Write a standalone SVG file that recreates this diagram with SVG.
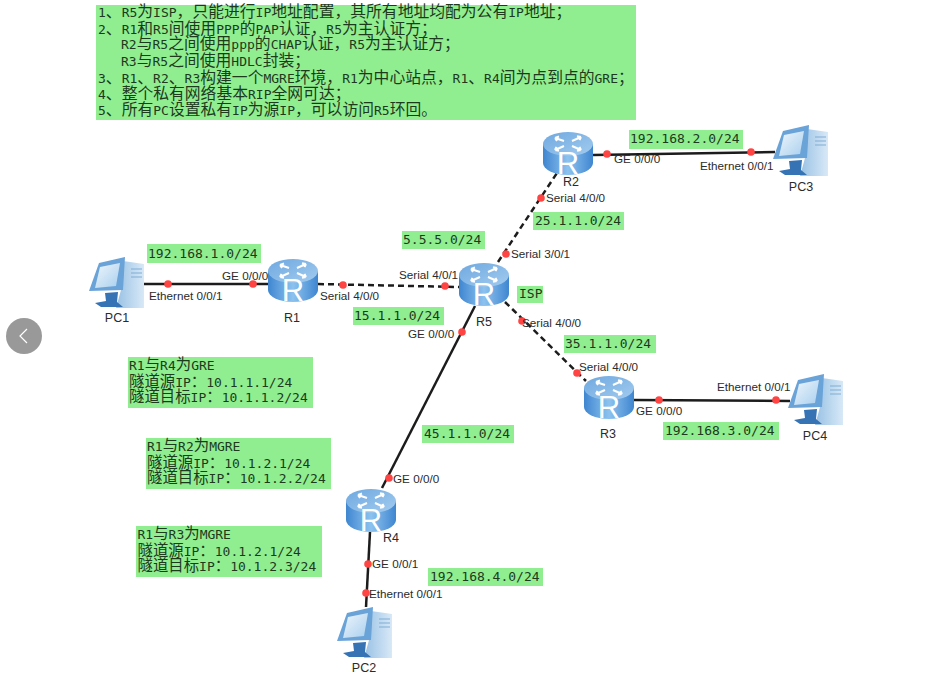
<svg xmlns="http://www.w3.org/2000/svg" width="929" height="677" viewBox="0 0 929 677">
<style>
.note{fill:#90ee90}
.m{font-family:"DejaVu Sans Mono","Liberation Mono","Noto Sans CJK SC",monospace;font-size:13px;fill:#1d3a1d}
.m tspan{font-family:"Noto Sans CJK SC","DejaVu Sans",sans-serif;font-size:15.4px}
.m.t tspan{font-size:15.8px}
.if{font-family:"Liberation Sans",Arial,sans-serif;font-size:11.7px;fill:#2b2b2b}
.nl{font-family:"Liberation Sans",Arial,sans-serif;font-size:12.5px;fill:#2b2b2b;text-anchor:middle}
.rl{font-family:"Liberation Sans",Arial,sans-serif;font-size:31px;fill:#fff;text-anchor:middle}
.s{stroke:#1c1c1c;stroke-width:2.5;fill:none}
.d{stroke:#1c1c1c;stroke-width:2.5;fill:none;stroke-dasharray:6 4}
.p{fill:#f44}
</style>
<defs>
<linearGradient id="rb" x1="0" x2="1" y1="0" y2="0"><stop offset="0" stop-color="#3f86d0"/><stop offset=".5" stop-color="#8cc2ef"/><stop offset="1" stop-color="#3f86d0"/></linearGradient>
<linearGradient id="rt" x1="0" x2="1" y1="0" y2="1"><stop offset="0" stop-color="#6ea8e0"/><stop offset="1" stop-color="#a3ccef"/></linearGradient>
<linearGradient id="ps" x1="0" x2="1" y1="0" y2="1"><stop offset="0" stop-color="#eef6fc"/><stop offset="1" stop-color="#a9cfee"/></linearGradient>
<linearGradient id="pt" x1="0" x2="1" y1="0" y2="0"><stop offset="0" stop-color="#98c1e4"/><stop offset="1" stop-color="#d8e9f7"/></linearGradient>
<g id="router">
<path d="M0 13V32A25 12 0 0 0 50 32V13Z" fill="url(#rb)"/>
<ellipse cx="25" cy="13" rx="25" ry="12" fill="url(#rt)"/>
<g stroke="#fff" stroke-width="2" fill="none">
<path d="M21 10L12 7M12 7l4-1.500M12 7l2 3"/>
<path d="M29 10L38 6M38 6l-4-.8M38 6l-1.500 3.200"/>
<path d="M21 15L12 19M12 19l4 .8M12 19l1.500-3.200"/>
<path d="M29 15L38 19M38 19l-4 .8M38 19l-1.500-3.200"/>
</g>
<text class="rl" x="25" y="43">R</text>
</g>
<g id="pc">
<path d="M34 4L55 7V51H27L32 33Z" fill="url(#pt)"/>
<path d="M42 12h11M42 16h11M42 20h11" stroke="#7fadd4" stroke-width="1"/>
<path d="M10 6L36 0L34 33L0 34Z" fill="#6aa3d8"/>
<path d="M11 10L31 6L27 29L6 31Z" fill="url(#ps)"/>
<path d="M16 36L29 35L28 45L34 50L12 50L6 46L17 44Z" fill="#3673b5"/>
</g>
</defs>
<rect width="929" height="677" fill="#fff"/>

<g id="connectors">
<path class="s" d="M144 284H268"/>
<path class="d" d="M318 284L459 287"/>
<path class="d" d="M498 262L557 173"/>
<path class="d" d="M505 302L586 381"/>
<path class="s" d="M475 306L382 488"/>
<path class="s" d="M370 532L366 607"/>
<path class="s" d="M593 155L775 152"/>
<path class="s" d="M633 400L790 401"/>
<g>
<circle class="p" cx="168" cy="284" r="3.800"/><circle class="p" cx="253" cy="284" r="3.800"/>
<circle class="p" cx="343" cy="285" r="3.800"/><circle class="p" cx="445" cy="286" r="3.800"/>
<circle class="p" cx="541" cy="198" r="3.800"/><circle class="p" cx="506" cy="254" r="3.800"/>
<circle class="p" cx="522" cy="321" r="3.800"/><circle class="p" cx="577" cy="373" r="3.800"/>
<circle class="p" cx="462" cy="332" r="3.800"/><circle class="p" cx="389" cy="478" r="3.800"/>
<circle class="p" cx="368" cy="564" r="3.800"/><circle class="p" cx="366" cy="593" r="3.800"/>
<circle class="p" cx="607" cy="154" r="3.800"/><circle class="p" cx="751" cy="152" r="3.800"/>
<circle class="p" cx="659" cy="400" r="3.800"/><circle class="p" cx="776" cy="400" r="3.800"/>
</g>
<g>
<text class="if" x="149" y="300">Ethernet 0/0/1</text>
<text class="if" x="222" y="280">GE 0/0/0</text>
<text class="if" x="320" y="300">Serial 4/0/0</text>
<text class="if" x="399" y="279">Serial 4/0/1</text>
<text class="if" x="511" y="258">Serial 3/0/1</text>
<text class="if" x="546" y="202">Serial 4/0/0</text>
<text class="if" x="614" y="163">GE 0/0/0</text>
<text class="if" x="700" y="170">Ethernet 0/0/1</text>
<text class="if" x="522" y="327">Serial 4/0/0</text>
<text class="if" x="408" y="338">GE 0/0/0</text>
<text class="if" x="579" y="371">Serial 4/0/0</text>
<text class="if" x="636" y="415">GE 0/0/0</text>
<text class="if" x="717" y="391">Ethernet 0/0/1</text>
<text class="if" x="393" y="483">GE 0/0/0</text>
<text class="if" x="372" y="568">GE 0/0/1</text>
<text class="if" x="369" y="598">Ethernet 0/0/1</text>
</g>
</g>

<g id="R1"><use href="#router" x="268" y="258"/><text class="nl" x="292" y="322">R1</text></g>
<g id="R2"><use href="#router" x="543" y="131"/><text class="nl" x="571" y="186">R2</text></g>
<g id="R3"><use href="#router" x="584" y="375"/><text class="nl" x="608" y="438">R3</text></g>
<g id="R4"><use href="#router" x="346" y="488"/><text class="nl" x="391" y="542">R4</text></g>
<g id="R5"><use href="#router" x="459" y="262"/><text class="nl" x="484" y="326">R5</text></g>
<g id="PC1"><use href="#pc" x="89" y="257"/><text class="nl" x="117" y="322">PC1</text></g>
<g id="PC2"><use href="#pc" x="337" y="607"/><text class="nl" x="364" y="672">PC2</text></g>
<g id="PC3"><use href="#pc" x="773" y="125"/><text class="nl" x="801" y="191">PC3</text></g>
<g id="PC4"><use href="#pc" x="788" y="374"/><text class="nl" x="815" y="440">PC4</text></g>

<g id="requirements">
<rect class="note" x="96" y="5" width="540" height="115"/>
<text class="m t" x="98" y="17">1<tspan>、</tspan>R5<tspan>为</tspan>ISP<tspan>，只能进行</tspan>IP<tspan>地址配置，其所有地址均配为公有</tspan>IP<tspan>地址；</tspan></text>
<text class="m t" x="98" y="34">2<tspan>、</tspan>R1<tspan>和</tspan>R5<tspan>间使用</tspan>PPP<tspan>的</tspan>PAP<tspan>认证，</tspan>R5<tspan>为主认证方；</tspan></text>
<text class="m t" x="121" y="49">R2<tspan>与</tspan>R5<tspan>之间使用</tspan>ppp<tspan>的</tspan>CHAP<tspan>认证，</tspan>R5<tspan>为主认证方；</tspan></text>
<text class="m t" x="121" y="66">R3<tspan>与</tspan>R5<tspan>之间使用</tspan>HDLC<tspan>封装；</tspan></text>
<text class="m t" x="98" y="83">3<tspan>、</tspan>R1<tspan>、</tspan>R2<tspan>、</tspan>R3<tspan>构建一个</tspan>MGRE<tspan>环境，</tspan>R1<tspan>为中心站点，</tspan>R1<tspan>、</tspan>R4<tspan>间为点到点的</tspan>GRE<tspan>；</tspan></text>
<text class="m t" x="98" y="99">4<tspan>、整个私有网络基本</tspan>RIP<tspan>全网可达；</tspan></text>
<text class="m t" x="98" y="115">5<tspan>、所有</tspan>PC<tspan>设置私有</tspan>IP<tspan>为源</tspan>IP<tspan>，可以访问</tspan>R5<tspan>环回。</tspan></text>
</g>

<g id="subnets">
<rect class="note" x="147" y="244" width="114" height="19"/><text class="m" x="148" y="258">192.168.1.0/24</text>
<rect class="note" x="629" y="130" width="114" height="19"/><text class="m" x="630" y="143">192.168.2.0/24</text>
<rect class="note" x="533" y="212" width="91" height="18"/><text class="m" x="535" y="225">25.1.1.0/24</text>
<rect class="note" x="402" y="231" width="83" height="18"/><text class="m" x="403" y="244">5.5.5.0/24</text>
<rect class="note" x="517" y="286" width="26" height="17"/><text class="m" x="519" y="298">ISP</text>
<rect class="note" x="353" y="307" width="91" height="18"/><text class="m" x="354" y="320">15.1.1.0/24</text>
<rect class="note" x="564" y="335" width="92" height="18"/><text class="m" x="565" y="348">35.1.1.0/24</text>
<rect class="note" x="663" y="422" width="116" height="18"/><text class="m" x="665" y="435">192.168.3.0/24</text>
<rect class="note" x="422" y="425" width="92" height="18"/><text class="m" x="424" y="438">45.1.1.0/24</text>
<rect class="note" x="428" y="568" width="115" height="18"/><text class="m" x="430" y="581">192.168.4.0/24</text>
</g>

<g id="tunnel-r1-r4">
<rect class="note" x="128" y="357" width="185" height="51"/>
<text class="m" x="129" y="370">R1<tspan>与</tspan>R4<tspan>为</tspan>GRE</text>
<text class="m" x="129" y="387"><tspan>隧道源</tspan>IP<tspan>：</tspan>10.1.1.1/24</text>
<text class="m" x="129" y="402"><tspan>隧道目标</tspan>IP<tspan>：</tspan>10.1.1.2/24</text>
</g>
<g id="tunnel-r1-r2">
<rect class="note" x="146" y="438" width="185" height="51"/>
<text class="m" x="147" y="451">R1<tspan>与</tspan>R2<tspan>为</tspan>MGRE</text>
<text class="m" x="147" y="468"><tspan>隧道源</tspan>IP<tspan>：</tspan>10.1.2.1/24</text>
<text class="m" x="147" y="483"><tspan>隧道目标</tspan>IP<tspan>：</tspan>10.1.2.2/24</text>
</g>
<g id="tunnel-r1-r3">
<rect class="note" x="136" y="526" width="186" height="51"/>
<text class="m" x="137.500" y="539">R1<tspan>与</tspan>R3<tspan>为</tspan>MGRE</text>
<text class="m" x="137.500" y="556"><tspan>隧道源</tspan>IP<tspan>：</tspan>10.1.2.1/24</text>
<text class="m" x="137.500" y="571"><tspan>隧道目标</tspan>IP<tspan>：</tspan>10.1.2.3/24</text>
</g>

<g id="back-button">
<circle cx="24" cy="336" r="18" fill="#999"/>
<path d="M27 329L20 336L27 343" fill="none" stroke="#fff" stroke-width="1.2"/>
</g>
</svg>
